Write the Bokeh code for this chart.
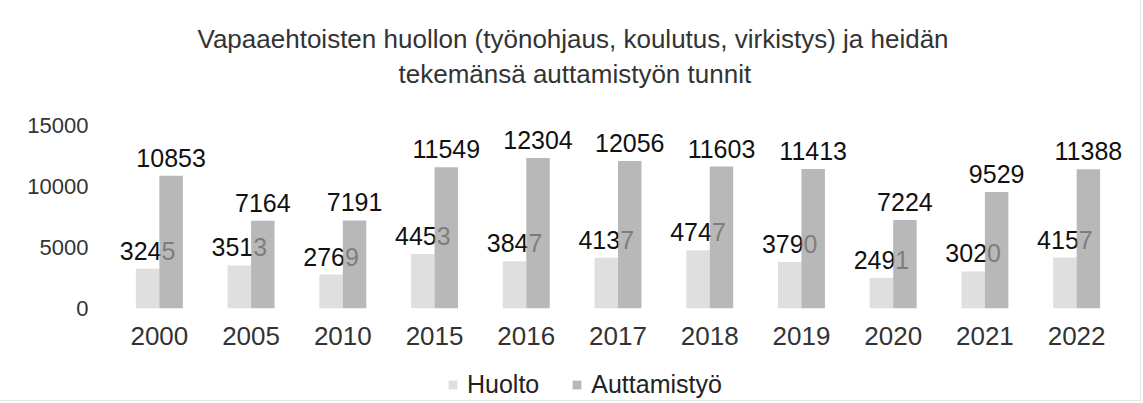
from bokeh.plotting import figure
from bokeh.models import ColumnDataSource, Range1d, FactorRange, FixedTicker, Title, Legend, LegendItem
from bokeh.transform import dodge
from bokeh.core.properties import value
from bokeh.embed import file_html
from bokeh.resources import INLINE

years = ["2000", "2005", "2010", "2015", "2016", "2017", "2018", "2019", "2020", "2021", "2022"]
huolto = [3245, 3513, 2769, 4453, 3847, 4137, 4747, 3790, 2491, 3020, 4157]
auttamistyo = [10853, 7164, 7191, 11549, 12304, 12056, 11603, 11413, 7224, 9529, 11388]
y_ticks = [0, 5000, 10000, 15000]
series_names = ["Huolto", "Auttamistyö"]
title_line1 = "Vapaaehtoisten huollon (työnohjaus, koulutus, virkistys) ja heidän"
title_line2 = "tekemänsä auttamistyön tunnit"

FONT = "Liberation Sans"

src = ColumnDataSource(dict(
    year=years,
    huolto=huolto,
    autt=auttamistyo,
    huolto_lbl=[str(v) for v in huolto],
    autt_lbl=[str(v) for v in auttamistyo],
))

p = figure(
    width=1140, height=400,
    x_range=FactorRange(*years, range_padding=0),
    y_range=Range1d(-7541, 17500),
    output_backend="svg", toolbar_location=None,
    min_border_left=113, min_border_right=18,
    min_border_top=94, min_border_bottom=0,
)
p.outline_line_color = None
p.xgrid.grid_line_color = None
p.ygrid.grid_line_color = None
p.styles = {"outline": "1px solid #e4e4e4"}

bw = 0.256
r1 = p.vbar(x=dodge("year", -bw / 2, range=p.x_range), top="huolto", width=bw,
            source=src, fill_color="#dfdfdf", line_color=None)
p.text(x=dodge("year", -bw / 2, range=p.x_range), y="huolto", text="huolto_lbl",
       source=src, text_align="center", text_baseline="alphabetic", y_offset=-18,
       text_font=value(FONT), text_font_size="25px", text_color="#111111")
r2 = p.vbar(x=dodge("year", bw / 2, range=p.x_range), top="autt", width=bw,
            source=src, fill_color="#a0a0a0", fill_alpha=0.75, line_color=None)
p.text(x=dodge("year", bw / 2, range=p.x_range), y="autt", text="autt_lbl",
       source=src, text_align="center", text_baseline="alphabetic", y_offset=-18,
       text_font=value(FONT), text_font_size="25px", text_color="#111111")

p.yaxis.ticker = FixedTicker(ticks=y_ticks)
p.xaxis.fixed_location = 0
for ax in (p.xaxis[0], p.yaxis[0]):
    ax.axis_line_color = None
    ax.major_tick_line_color = None
    ax.minor_tick_line_color = None
    ax.major_label_text_font = FONT
    ax.major_label_text_color = "#333333"
p.yaxis.major_label_text_font_size = "22px"
p.yaxis.major_label_standoff = 19
p.xaxis.major_label_text_font_size = "26px"
p.xaxis.major_label_standoff = 13

legend = Legend(items=[LegendItem(label=series_names[0], renderers=[r1]),
                       LegendItem(label=series_names[1], renderers=[r2])],
                orientation="horizontal", location=(334, 1),
                label_text_font=FONT, label_text_font_size="25px", label_text_color="#222222",
                glyph_width=11, glyph_height=11, label_standoff=9, spacing=32,
                border_line_color=None, background_fill_alpha=0, padding=0, margin=0)
p.add_layout(legend, "center")

t2 = Title(text=title_line2, align="left", offset=285, text_font=FONT,
           text_font_size="26px", text_font_style="normal", text_color="#333333", standoff=11)
t1 = Title(text=title_line1, align="left", offset=84, text_font=FONT,
           text_font_size="26px", text_font_style="normal", text_color="#333333", standoff=-5)
p.add_layout(t2, "above")
p.add_layout(t1, "above")

open("out.html", "w").write(file_html(p, INLINE))
